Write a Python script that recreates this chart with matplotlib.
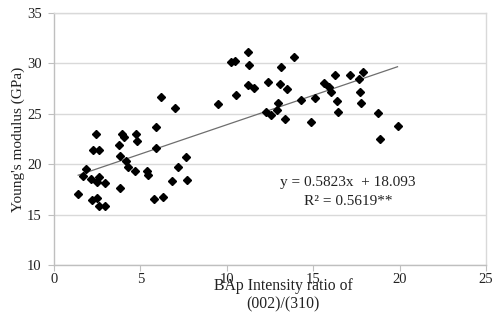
import matplotlib
matplotlib.use("Agg")
import matplotlib.pyplot as plt
import numpy as np

plt.rcParams['font.family'] = ['Liberation Serif', 'DejaVu Serif']

bap_ratio = [1.40, 1.70, 1.84, 2.15, 2.47, 2.61, 2.20, 2.51, 2.59, 2.98, 2.94, 2.42, 2.28, 2.63,
             3.83, 4.18, 4.27, 3.83, 4.68, 5.41, 5.43, 5.76, 6.28, 6.82, 7.19, 7.66, 7.70,
             3.79, 4.06, 3.92, 4.72, 4.81, 5.88, 5.88, 6.19, 7.00, 9.48, 10.56, 10.25, 10.50,
             11.23, 11.31, 13.13, 13.86, 11.25, 11.60, 12.40, 13.07, 13.51, 12.94, 12.28, 12.53,
             12.92, 13.38, 14.31, 15.08, 14.85, 16.28, 17.15, 17.90, 17.67, 15.62, 15.89, 16.05,
             17.71, 16.36, 17.79, 16.43, 18.74, 18.89, 19.88]
youngs = [17.0, 18.8, 19.55, 18.5, 18.2, 18.76, 16.45, 16.6, 15.9, 15.85, 18.13, 23.0, 21.4, 21.44,
          20.84, 20.35, 19.69, 17.64, 19.33, 19.3, 18.9, 16.55, 16.7, 18.35, 19.75, 20.68, 18.48,
          21.94, 22.73, 23.0, 23.03, 22.33, 23.7, 21.6, 26.7, 25.54, 25.95, 26.88, 30.14, 30.24,
          31.1, 29.81, 29.67, 30.63, 27.86, 27.6, 28.19, 27.93, 27.43, 26.04, 25.2, 24.85,
          25.38, 24.45, 26.34, 26.6, 24.22, 28.85, 28.85, 29.18, 28.42, 28.02, 27.69, 27.13,
          27.19, 26.3, 26.07, 25.15, 25.05, 22.53, 23.82]
slope = 0.5823
intercept = 18.093
x_ticks = [0, 5, 10, 15, 20, 25]
y_ticks = [10, 15, 20, 25, 30, 35]
eq_text = "y = 0.5823x  + 18.093"
r2_text = "R² = 0.5619**"
x_label = "BAp Intensity ratio of\n(002)/(310)"
y_label = "Young's modulus (GPa)"

W, H = 493, 321
fig = plt.figure(figsize=(W/100, H/100), dpi=100)
ax = fig.add_axes([54/W, 1-265/H, (486-54)/W, (265-13)/H])

grid_c = '#d9d9d9'
axis_c = '#bfbfbf'
ax.set_xlim(0, 25)
ax.set_ylim(10, 35)
ax.set_xticks(x_ticks)
ax.set_yticks(y_ticks)
ax.yaxis.grid(True, color=grid_c, linewidth=1.0)
ax.set_axisbelow(True)
for s in ['left', 'bottom', 'right', 'top']:
    ax.spines[s].set_color(axis_c if s in ('left', 'bottom') else grid_c)
    ax.spines[s].set_linewidth(1.0)
ax.tick_params(axis='both', direction='out', length=4, color=axis_c, labelsize=10.5, labelcolor='#222222')
ax.tick_params(axis='y', pad=5)
ax.tick_params(axis='x', pad=2)

xs = np.array(bap_ratio)
xl = np.array([xs.min(), xs.max()])
ax.plot(xl, slope*xl + intercept, color='#6e6e6e', linewidth=0.9, zorder=2)
ax.plot(bap_ratio, youngs, linestyle='none', marker='D', markersize=3.6, color='black', zorder=3)

ax.text(0.68, 0.329, eq_text, transform=ax.transAxes, ha='center', va='center', fontsize=11, color='#222222')
ax.text(0.68, 0.251, r2_text, transform=ax.transAxes, ha='center', va='center', fontsize=11, color='#222222')

fig.text(283/W, 1-295/H, x_label, ha='center', va='center', fontsize=11.3, color='#222222', linespacing=1.2)
fig.text(18/W, 1-139/H, y_label, ha='center', va='center', rotation=90, fontsize=11, color='#222222')

fig.savefig('out.png', dpi=100)
